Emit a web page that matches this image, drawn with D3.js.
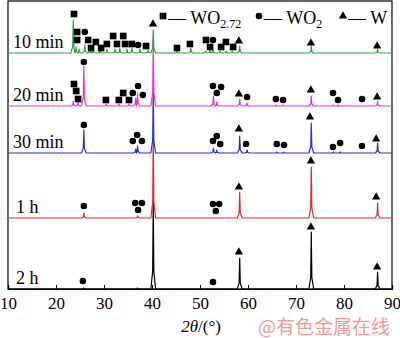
<!DOCTYPE html>
<html>
<head>
<meta charset="utf-8">
<script src="https://cdn.jsdelivr.net/npm/d3@7"></script>
<style>
  body { margin: 0; background: #fff; }
  svg { display: block; }
</style>
</head>
<body>
<div id="xrd"></div>
<script>
// XRD patterns of the reduced samples, stacked by holding time

var width = 400;
var height = 338;

var angleTicks = [10, 20, 30, 40, 50, 60, 70, 80, 90];

var seriesNames = ["2 h", "1 h", "30 min", "20 min", "10 min"];
var seriesOffsets = [0, 71, 136, 183, 236];
var seriesColors = ["#000000", "#e8262d", "#2b2bdc", "#e632e6", "#2ea62e"];

// peaks: [2theta, intensity above the series baseline]
var peaks2h = [[25.8, 1], [37.0, 1], [40.26, 88], [58.27, 31], [73.18, 57], [87.0, 17]];
var peaks1h = [[25.8, 5], [37.0, 2], [40.26, 80], [58.27, 26], [73.18, 51], [87.0, 15]];
var peaks30min = [[25.8, 23], [36.6, 4], [37.0, 7], [40.26, 62], [52.8, 5], [53.5, 3], [58.27, 17],
  [59.8, 3], [66.0, 1], [67.4, 1], [73.18, 30], [77.8, 1], [79.2, 1], [87.0, 10]];
var peaks20min = [[23.6, 5], [24.6, 4], [25.8, 40], [30.4, 2], [33.1, 2], [35.2, 2], [36.6, 8], [37.0, 13],
  [40.26, 66], [52.8, 10], [53.5, 4], [58.27, 7], [59.8, 3], [65.8, 1], [67.3, 1], [73.18, 10],
  [77.7, 1], [78.8, 1], [87.0, 5]];
var peaks10min = [[23.6, 33], [24.2, 6], [24.8, 4], [26.0, 8], [27.1, 3], [27.7, 4], [29.2, 3], [30.6, 4],
  [32.3, 4], [33.3, 5], [34.8, 4], [35.8, 5], [37.5, 4], [39.2, 3], [40.26, 23], [45.2, 2], [48.1, 5],
  [51.2, 2], [52.1, 3], [52.7, 3], [54.2, 2], [55.4, 2], [56.7, 2], [58.27, 7], [73.18, 7], [87.0, 4]];

// phase markers: [2theta, height above baseline, phase]  s = WO2.72, c = WO2, t = W
var marks2h = [[25.6, 8, "c"], [52.7, 7, "c"], [58.1, 37, "t"], [73.1, 62, "t"], [86.9, 22, "t"]];
var marks1h = [[25.8, 12, "c"], [36.5, 15, "c"], [37.9, 15, "c"], [37.1, 8, "c"], [52.7, 14, "c"],
  [54.0, 14, "c"], [53.3, 7, "c"], [58.1, 31, "t"], [73.1, 57, "t"], [86.7, 21, "t"]];
var marks30min = [[25.8, 28, "c"], [36.9, 18, "c"], [36.0, 12, "c"], [37.9, 12, "c"], [52.7, 12, "c"],
  [53.5, 17, "c"], [54.2, 9, "c"], [58.1, 24, "t"], [59.6, 9, "c"], [66.0, 9, "c"], [67.5, 8, "c"],
  [72.9, 36, "t"], [77.7, 6, "c"], [79.2, 10, "c"], [83.75, 7, "c"], [86.7, 14, "t"]];
var marks20min = [[23.75, 22, "s"], [24.2, 15, "s"], [24.6, 7, "s"], [25.8, 44, "c"], [30.4, 6, "s"],
  [33.1, 6, "s"], [34.0, 13, "s"], [35.2, 6, "s"], [36.0, 13, "c"], [37.1, 20, "c"], [38.1, 11, "c"],
  [52.7, 20, "c"], [54.4, 19, "c"], [53.5, 13, "c"], [58.1, 12, "t"], [59.8, 9, "c"], [65.8, 7, "c"],
  [67.3, 6, "c"], [73.1, 16, "t"], [77.7, 13, "c"], [78.75, 6, "c"], [83.75, 7, "c"], [86.9, 9, "t"]];
var marks10min = [[23.75, 39, "s"], [24.4, 21, "s"], [26.0, 21, "c"], [24.4, 13, "s"], [26.7, 13, "s"],
  [27.3, 5, "s"], [28.3, 11, "s"], [29.4, 5, "s"], [30.6, 9, "s"], [31.9, 17, "s"], [32.7, 9, "s"],
  [34.0, 17, "s"], [34.4, 9, "s"], [35.8, 9, "s"], [37.1, 8, "c"], [38.75, 7, "s"], [40.2, 29, "t"],
  [45.2, 5, "s"], [47.9, 9, "s"], [51.25, 13, "s"], [52.7, 13, "c"], [52.1, 6, "s"], [54.4, 6, "s"],
  [55.4, 11, "s"], [56.9, 6, "s"], [58.1, 12, "t"], [73.1, 10, "t"], [86.9, 7, "t"]];

var legendPhases = [["s", "WO", "2.72"], ["c", "WO", "2"], ["t", "W", ""]];

var allPeaks = [peaks2h, peaks1h, peaks30min, peaks20min, peaks10min];
var allMarks = [marks2h, marks1h, marks30min, marks20min, marks10min];

var serif = "Liberation Serif, DejaVu Serif, serif";
var plot = {left: 8, right: 392, top: 1, bottom: 289};

var x = d3.scaleLinear().domain([10, 90]).range([plot.left, plot.right]);
var y = d3.scaleLinear().domain([0, plot.bottom - plot.top]).range([plot.bottom, plot.top]);

var svg = d3.select("#xrd").append("svg")
  .attr("width", width)
  .attr("height", height);

// narrow spike for every peak, bases clamped so neighbours never cross
function profile(peaks, offset){
  var pts = [[10, offset]];
  var baseHalf = 0.5, topHalf = 0.12;
  for (var i = 0; i < peaks.length; i++){
    var p = peaks[i][0], h = peaks[i][1];
    var lo = i > 0 ? (peaks[i - 1][0] + p) / 2 : 10;
    var hi = i < peaks.length - 1 ? (p + peaks[i + 1][0]) / 2 : 90;
    pts.push([Math.max(p - baseHalf, lo), offset]);
    pts.push([Math.max(p - topHalf, lo), offset + h * 0.2]);
    pts.push([p, offset + h]);
    pts.push([Math.min(p + topHalf, hi), offset + h * 0.2]);
    pts.push([Math.min(p + baseHalf, hi), offset]);
  }
  pts.push([90, offset]);
  return pts;
}

var line = d3.line()
  .x(function(d){ return x(d[0]); })
  .y(function(d){ return y(d[1]); });

// frame
svg.append("rect")
  .attr("x", plot.left).attr("y", plot.top)
  .attr("width", plot.right - plot.left).attr("height", plot.bottom - plot.top)
  .attr("fill", "none").attr("stroke", "#000").attr("stroke-width", 1.2);

// bottom axis, ticks pointing inward
var axis = svg.append("g")
  .attr("transform", "translate(0," + plot.bottom + ")")
  .call(d3.axisBottom(x).tickValues(angleTicks).tickSize(-4).tickPadding(8).tickFormat(d3.format("d")));
axis.select(".domain").attr("stroke-width", 1.2);
axis.selectAll("text")
  .attr("font-family", serif)
  .attr("font-size", 17)
  .attr("fill", "#000");

// traces, bottom one first so upper traces cover the tall 40 degree peaks
for (var s = 0; s < seriesNames.length; s++){
  svg.append("path")
    .datum(profile(allPeaks[s], seriesOffsets[s]))
    .attr("d", line)
    .attr("fill", "none")
    .attr("stroke", seriesColors[s])
    .attr("stroke-width", 1.2)
    .attr("stroke-linejoin", "round");
}

var symbolTypes = {s: d3.symbolSquare, c: d3.symbolCircle, t: d3.symbolTriangle};
var symbolSizes = {s: 44, c: 34, t: 30};

function symbolPath(t){
  return d3.symbol().type(symbolTypes[t]).size(symbolSizes[t])();
}

for (var s = 0; s < seriesNames.length; s++){
  var off = seriesOffsets[s];
  svg.append("g").selectAll("path")
    .data(allMarks[s])
    .enter()
    .append("path")
    .attr("d", function(d){ return symbolPath(d[2]); })
    .attr("transform", function(d){ return "translate(" + x(d[0]) + "," + y(off + d[1]) + ")"; })
    .attr("fill", "#000");

  svg.append("text")
    .attr("x", s < 2 ? 16 : 13)
    .attr("y", y(off) - 5)
    .attr("font-family", serif)
    .attr("font-size", 18)
    .text(seriesNames[s]);
}

// legend
var legendX = [163, 259, 343];
var legend = svg.append("g");
legendPhases.forEach(function(d, i){
  legend.append("path")
    .attr("d", symbolPath(d[0]))
    .attr("transform", "translate(" + legendX[i] + ",16)")
    .attr("fill", "#000");
  var t = legend.append("text")
    .attr("x", legendX[i] + 5)
    .attr("y", 24)
    .attr("font-family", serif)
    .attr("font-size", 18)
    .text("\u2014 " + d[1]);
  if (d[2]){
    t.append("tspan").attr("dy", 4).attr("font-size", 12).text(d[2]);
  }
});

// axis title
var title = svg.append("text")
  .attr("x", 201)
  .attr("y", 332)
  .attr("text-anchor", "middle")
  .attr("font-family", serif)
  .attr("font-size", 17);
title.append("tspan").attr("font-style", "italic").text("2\u03b8");
title.append("tspan").text("/(\u00b0)");

// watermark
svg.append("text")
  .attr("x", 258)
  .attr("y", 334)
  .attr("font-family", "Noto Sans CJK SC, sans-serif")
  .attr("font-size", 19)
  .attr("fill", "#f29a9a")
  .text("@有色金属在线");
</script>
</body>
</html>
